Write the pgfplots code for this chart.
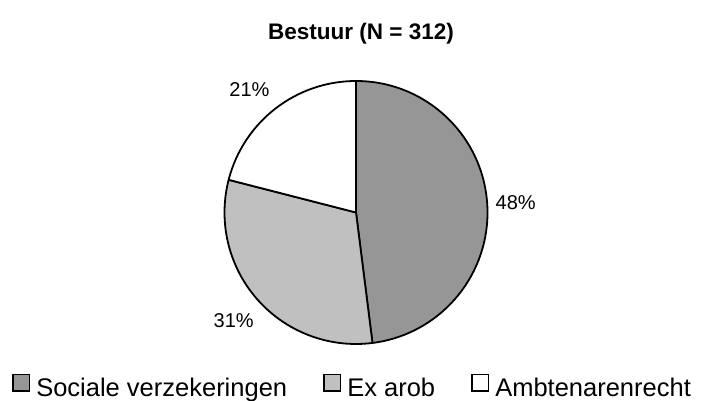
\documentclass[border=0pt]{standalone}
\usepackage{pgfplots}
\pgfplotsset{compat=1.18}
\usepackage{pgfplotstable}
\usepackage{fontspec}
\setmainfont{Liberation Sans}
\definecolor{sliceA}{RGB}{150,150,150}
\definecolor{sliceB}{RGB}{192,192,192}
\definecolor{sliceC}{RGB}{255,255,255}

\pgfplotstableread{
value
48
31
21
}\piedata

\begin{document}
\begin{tikzpicture}
\path[use as bounding box] (0,0) rectangle (707pt,401pt);
\pgfplotstablegetelem{0}{value}\of\piedata \let\vA\pgfplotsretval
\pgfplotstablegetelem{1}{value}\of\piedata \let\vB\pgfplotsretval
\pgfplotstablegetelem{2}{value}\of\piedata \let\vC\pgfplotsretval
\pgfmathsetmacro\aO{90}
\pgfmathsetmacro\aA{\aO-3.6*\vA}
\pgfmathsetmacro\aB{\aA-3.6*\vB}
\pgfmathsetmacro\aC{\aB-3.6*\vC}
\pgfmathsetmacro\mA{(\aO+\aA)/2}
\pgfmathsetmacro\mB{(\aA+\aB)/2}
\pgfmathsetmacro\mC{(\aB+\aC)/2}
\def\r{131.5pt}
\def\rl{163pt}
\begin{axis}[
  at={(356pt,188.5pt)}, anchor=center,
  scale only axis, width=263pt, height=263pt,
  xmin=-1, xmax=1, ymin=-1, ymax=1,
  hide axis, clip=false,
  legend columns=3,
  legend cell align=left,
  legend image code/.code={\draw[#1, line width=1.6pt] (0pt,-0.5ex) rectangle (16.5pt,{16.5pt-0.5ex});},
  legend style={at={(-0.808,-0.211)}, anchor=south west, draw=none, fill=none,
    font=\fontsize{25.5}{30}\selectfont, inner sep=0pt,
    nodes={inner sep=1pt},
    /tikz/every even column/.append style={column sep=35pt},
    /tikz/every odd column/.append style={column sep=5pt}},
]
\addlegendimage{fill=sliceA, draw=black}
\addlegendentry{Sociale verzekeringen}
\addlegendimage{fill=sliceB, draw=black}
\addlegendentry{Ex arob}
\addlegendimage{fill=sliceC, draw=black}
\addlegendentry{Ambtenarenrecht}

\filldraw[fill=sliceA, draw=black, line width=1.8pt, line join=round]
  (axis cs:0,0) -- ++(\aO:\r) arc[start angle=\aO, end angle=\aA, radius=\r] -- cycle;
\filldraw[fill=sliceB, draw=black, line width=1.8pt, line join=round]
  (axis cs:0,0) -- ++(\aA:\r) arc[start angle=\aA, end angle=\aB, radius=\r] -- cycle;
\filldraw[fill=sliceC, draw=black, line width=1.8pt, line join=round]
  (axis cs:0,0) -- ++(\aB:\r) arc[start angle=\aB, end angle=\aC, radius=\r] -- cycle;

\node[font=\fontsize{20}{24}\selectfont, anchor=center, inner sep=0pt]
  at ([shift={(\mA:160pt)}]axis cs:0,0) {\vA\%};
\node[font=\fontsize{20}{24}\selectfont, anchor=center, inner sep=0pt]
  at ([shift={(\mB:\rl)}]axis cs:0,0) {\vB\%};
\node[font=\fontsize{20}{24}\selectfont, anchor=center, inner sep=0pt]
  at ([shift={(\mC+3:\rl)}]axis cs:0,0) {\vC\%};
\end{axis}
\node[font=\fontsize{22.5}{27}\selectfont\bfseries, anchor=base] at (361pt,361pt) {Bestuur (N = 312)};
\end{tikzpicture}
\end{document}
